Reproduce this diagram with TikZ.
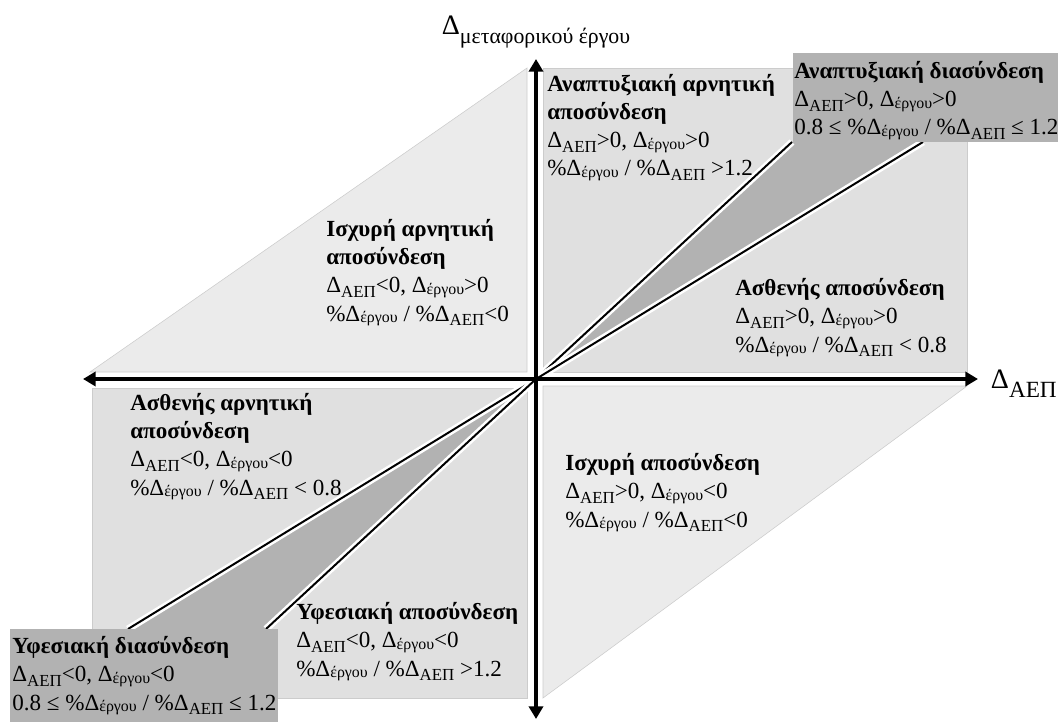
\documentclass[tikz,border=0pt]{standalone}
\usepackage{fontspec}
\setmainfont{Liberation Serif}
\usetikzlibrary{arrows.meta}

\definecolor{zonegray}{gray}{0.88}
\definecolor{palegray}{gray}{0.92}
\definecolor{bandgray}{gray}{0.70}

\newcommand{\dAEP}{Δ\raisebox{-3.5pt}{\fontsize{12}{12}\selectfont ΑΕΠ}}
\newcommand{\dERG}{Δ\raisebox{-1.2pt}{\fontsize{11.3}{11.3}\selectfont έργου}}

\begin{document}
\begin{tikzpicture}[x=0.025cm, y=-0.025cm, >={Triangle[length=9pt,width=10pt]},
  font=\fontsize{16.4}{20}\selectfont,
  zone/.style={anchor=base west, align=left, inner sep=0pt},
  axis/.style={line width=2.4pt},
  border/.style={line width=1.4pt, preaction={draw=white, line width=5pt}}]
  \useasboundingbox (0,0) rectangle (1058,722);

  % quadrant areas
  \filldraw[fill=zonegray, draw=black!20] (543,68) rectangle (967,372);
  \filldraw[fill=zonegray, draw=black!20] (92,388) rectangle (527,698);
  \filldraw[fill=palegray, draw=black!20] (90,372) -- (527,68) -- (527,372) -- cycle;
  \filldraw[fill=palegray, draw=black!20] (543,386) -- (967,386) -- (543,698) -- cycle;

  \coordinate (O) at (536,379);
  \coordinate (xmin) at (83,379);
  \coordinate (xmax) at (978,379);
  \coordinate (ymax) at (536,59);
  \coordinate (ymin) at (536,719);
  \coordinate (ur1) at (792,142);
  \coordinate (ur2) at (923,142);
  \coordinate (ll1) at (128,629);
  \coordinate (ll2) at (266,629);

  % coupling bands
  \fill[bandgray] (O) -- (ur1) -- (ur2) -- cycle;
  \fill[bandgray] (O) -- (ll1) -- (ll2) -- cycle;
  \draw[border] (O) -- (ur1);
  \draw[border] (O) -- (ur2);
  \draw[border] (O) -- (ll1);
  \draw[border] (O) -- (ll2);
  \fill[bandgray] (793,53) rectangle (1058,142);
  \fill[bandgray] (10,629) rectangle (278,722);

  % axes
  \draw[axis, <->] (xmin) -- (xmax);
  \draw[axis, <->] (ymin) -- (ymax);
  \node[anchor=base, font=\fontsize{20}{20}\selectfont] (ylab) at (536,35)
    {Δ\raisebox{-5.7pt}{\fontsize{15.5}{15.5}\selectfont μεταφορικού έργου}};
  \node[anchor=base west, font=\fontsize{20}{20}\selectfont] (xlab) at (986,388)
    {Δ\raisebox{-7pt}{\fontsize{16.5}{16.5}\selectfont ΑΕΠ}};

  % zone texts (placed at the baseline of their last line)
  \node[zone] (anapt) at (547,176) {\textbf{Αναπτυξιακή αρνητική}\\\textbf{αποσύνδεση}\\
    \dAEP>0, \dERG>0\\\%\dERG{} / \%\dAEP{} >1.2};
  \node[zone] (anaptd) at (794,135) {\textbf{Αναπτυξιακή διασύνδεση}\\
    \dAEP>0, \dERG>0\\0.8 ≤ \%\dERG{} / \%\dAEP{} ≤ 1.2};
  \node[zone] (isxar) at (326,321) {\textbf{Ισχυρή αρνητική}\\\textbf{αποσύνδεση}\\
    \dAEP<0, \dERG>0\\\%\dERG{} / \%\dAEP<0};
  \node[zone] (asth) at (735,352) {\textbf{Ασθενής αποσύνδεση}\\
    \dAEP>0, \dERG>0\\\%\dERG{} / \%\dAEP{} < 0.8};
  \node[zone] (astar) at (130,495) {\textbf{Ασθενής αρνητική}\\\textbf{αποσύνδεση}\\
    \dAEP<0, \dERG<0\\\%\dERG{} / \%\dAEP{} < 0.8};
  \node[zone] (isx) at (565,527) {\textbf{Ισχυρή αποσύνδεση}\\
    \dAEP>0, \dERG<0\\\%\dERG{} / \%\dAEP<0};
  \node[zone] (yfes) at (296,676) {\textbf{Υφεσιακή αποσύνδεση}\\
    \dAEP<0, \dERG<0\\\%\dERG{} / \%\dAEP{} >1.2};
  \node[zone] (yfesd) at (12,710) {\textbf{Υφεσιακή διασύνδεση}\\
    \dAEP<0, \dERG<0\\0.8 ≤ \%\dERG{} / \%\dAEP{} ≤ 1.2};
\end{tikzpicture}
\end{document}
